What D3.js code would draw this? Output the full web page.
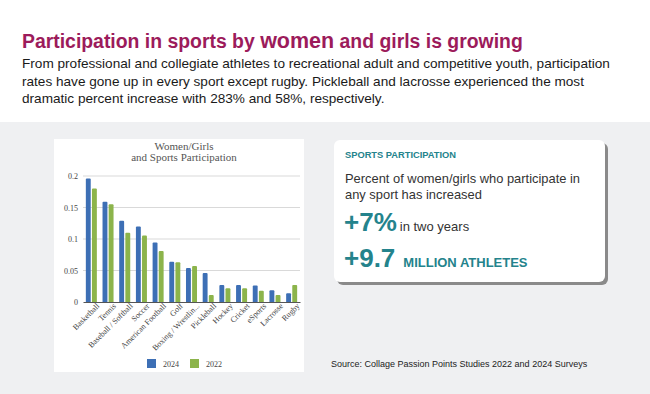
<!DOCTYPE html>
<html>
<head>
<meta charset="utf-8">
<script src="https://cdn.jsdelivr.net/npm/d3@7"></script>
<style>
  body { margin: 0; background: #fff; }
  svg { display: block; }
</style>
</head>
<body>
<svg class="svg" width="650" height="394"></svg>
<script>
// données
const sports = ["Basketball", "Tennis", "Baseball / Softball", "Soccer", "American Football", "Golf",
  "Boxing / Wrestlin...", "Pickleball", "Hockey", "Cricket", "eSports", "Lacrosse", "Rugby"];
const val2024 = [0.196, 0.159, 0.129, 0.120, 0.0945, 0.064, 0.054, 0.046, 0.027, 0.027, 0.026, 0.0185, 0.0137];
const val2022 = [0.180, 0.155, 0.110, 0.1055, 0.081, 0.063, 0.057, 0.011, 0.022, 0.022, 0.018, 0.011, 0.027];
const yTicks = [0, 0.05, 0.1, 0.15, 0.2];
const years = ["2024", "2022"];
const colors = ["#3d6fb5", "#8cb44b"];

const svg = d3.select(".svg");
const sans = "Liberation Sans, Arial, sans-serif";
const serif = "Liberation Serif, Times New Roman, serif";

// fond
svg.append("rect").attr("x", 0).attr("y", 0).attr("width", 650).attr("height", 394).attr("fill", "#fff");
svg.append("rect").attr("x", 0).attr("y", 122).attr("width", 650).attr("height", 272).attr("fill", "#eff0f2");

// titre + texte
const title = svg.append("text").attr("x", 22).attr("y", 48)
  .attr("font-family", sans).attr("font-weight", "bold").attr("font-size", 19.4).attr("fill", "#9c1b5b");
title.append("tspan").text("Participation in sports by ");
title.append("tspan").attr("font-size", 21.5).text("women");
title.append("tspan").text(" and girls is growing");

const intro = [
  "From professional and collegiate athletes to recreational adult and competitive youth, participation",
  "rates have gone up in every sport except rugby. Pickleball and lacrosse experienced the most",
  "dramatic percent increase with 283% and 58%, respectively."
];
svg.selectAll(".intro").data(intro).enter().append("text")
  .attr("x", 22).attr("y", (d, i) => 68 + i * 17.5)
  .attr("font-family", sans).attr("font-size", 13.6).attr("fill", "#1a1a1a")
  .text(d => d);

// panneau du graphique
svg.append("rect").attr("x", 54).attr("y", 139).attr("width", 250).attr("height", 233).attr("fill", "#fff");

svg.selectAll(".ctitle").data(["Women/Girls", "and Sports Participation"]).enter().append("text")
  .attr("x", 184).attr("y", (d, i) => 149.5 + i * 11.5)
  .attr("text-anchor", "middle").attr("font-family", serif).attr("font-size", 11).attr("fill", "#555")
  .text(d => d);

const x = d3.scaleBand().domain(sports).range([83, 300]).paddingInner(0.34).paddingOuter(0.17);
const x1 = d3.scaleBand().domain(years).range([0, x.bandwidth()]).paddingInner(0.2);
const y = d3.scaleLinear().domain([0, 0.2]).range([302, 176]);

// grille
svg.selectAll(".grid").data(yTicks.slice(1)).enter().append("line")
  .attr("x1", 83).attr("x2", 300).attr("y1", d => y(d)).attr("y2", d => y(d))
  .attr("stroke", "#d9d9d9").attr("stroke-width", 1);

const yAxis = svg.append("g").attr("transform", "translate(83,0)")
  .call(d3.axisLeft(y).tickValues(yTicks).tickSize(0).tickPadding(5).tickFormat(d3.format("")));
yAxis.select(".domain").remove();
yAxis.selectAll("text").attr("font-family", serif).attr("font-size", 8).attr("fill", "#444");

// barres
const groups = svg.selectAll(".grp").data(sports).enter().append("g")
  .attr("transform", d => `translate(${x(d)},0)`);
groups.selectAll("path").data((d, i) => [val2024[i], val2022[i]]).enter().append("path")
  .attr("fill", (d, j) => colors[j])
  .attr("d", (d, j) => {
    const bx = x1(years[j]), w = x1.bandwidth(), top = y(d), r = 1;
    return `M${bx},${y(0)}V${top + r}Q${bx},${top} ${bx + r},${top}H${bx + w - r}Q${bx + w},${top} ${bx + w},${top + r}V${y(0)}Z`;
  });

const xAxis = svg.append("g").attr("transform", `translate(0,${y(0)})`)
  .call(d3.axisBottom(x).tickSize(0).tickPadding(4));
xAxis.select(".domain").attr("stroke", "#555").attr("stroke-width", 1.2);
xAxis.selectAll("text").attr("font-family", serif).attr("font-size", 8).attr("fill", "#444")
  .attr("text-anchor", "end").attr("dy", "0.3em")
  .attr("transform", "translate(4,0) rotate(-45)");

// légende
const leg = svg.selectAll(".leg").data(years).enter().append("g")
  .attr("transform", (d, i) => `translate(${147 + i * 43},359)`);
leg.append("rect").attr("width", 9).attr("height", 9).attr("fill", (d, i) => colors[i]);
leg.append("text").attr("x", 16).attr("y", 7.5).attr("font-family", serif).attr("font-size", 8)
  .attr("fill", "#444").text(d => d);

// carte
svg.append("rect").attr("x", 337).attr("y", 143).attr("width", 271).attr("height", 142).attr("rx", 6)
  .attr("fill", "#8a8a8a");
svg.append("rect").attr("x", 334).attr("y", 140).attr("width", 271).attr("height", 142).attr("rx", 6)
  .attr("fill", "#fff");

const teal = "#24838c";
svg.append("text").attr("x", 345).attr("y", 158).attr("font-family", sans).attr("font-weight", "bold")
  .attr("font-size", 9.3).attr("fill", teal).text("SPORTS PARTICIPATION");
svg.selectAll(".card").data(["Percent of women/girls who participate in", "any sport has increased"])
  .enter().append("text").attr("x", 345).attr("y", (d, i) => 183 + i * 16)
  .attr("font-family", sans).attr("font-size", 12.9).attr("fill", "#333").text(d => d);

const s1 = svg.append("text").attr("x", 344).attr("y", 231).attr("font-family", sans);
s1.append("tspan").attr("font-size", 26).attr("font-weight", "bold").attr("fill", teal).text("+7%");
s1.append("tspan").attr("font-size", 13).attr("fill", "#333").attr("dx", 3).text("in two years");

const s2 = svg.append("text").attr("x", 344).attr("y", 267).attr("font-family", sans);
s2.append("tspan").attr("font-size", 26).attr("font-weight", "bold").attr("fill", teal).text("+9.7");
s2.append("tspan").attr("font-size", 13).attr("font-weight", "bold").attr("fill", teal).attr("dx", 8).text("MILLION ATHLETES");

// source
svg.append("text").attr("x", 331).attr("y", 367).attr("font-family", sans).attr("font-size", 9)
  .attr("fill", "#222").text("Source: Collage Passion Points Studies 2022 and 2024 Surveys");
</script>
</body>
</html>
